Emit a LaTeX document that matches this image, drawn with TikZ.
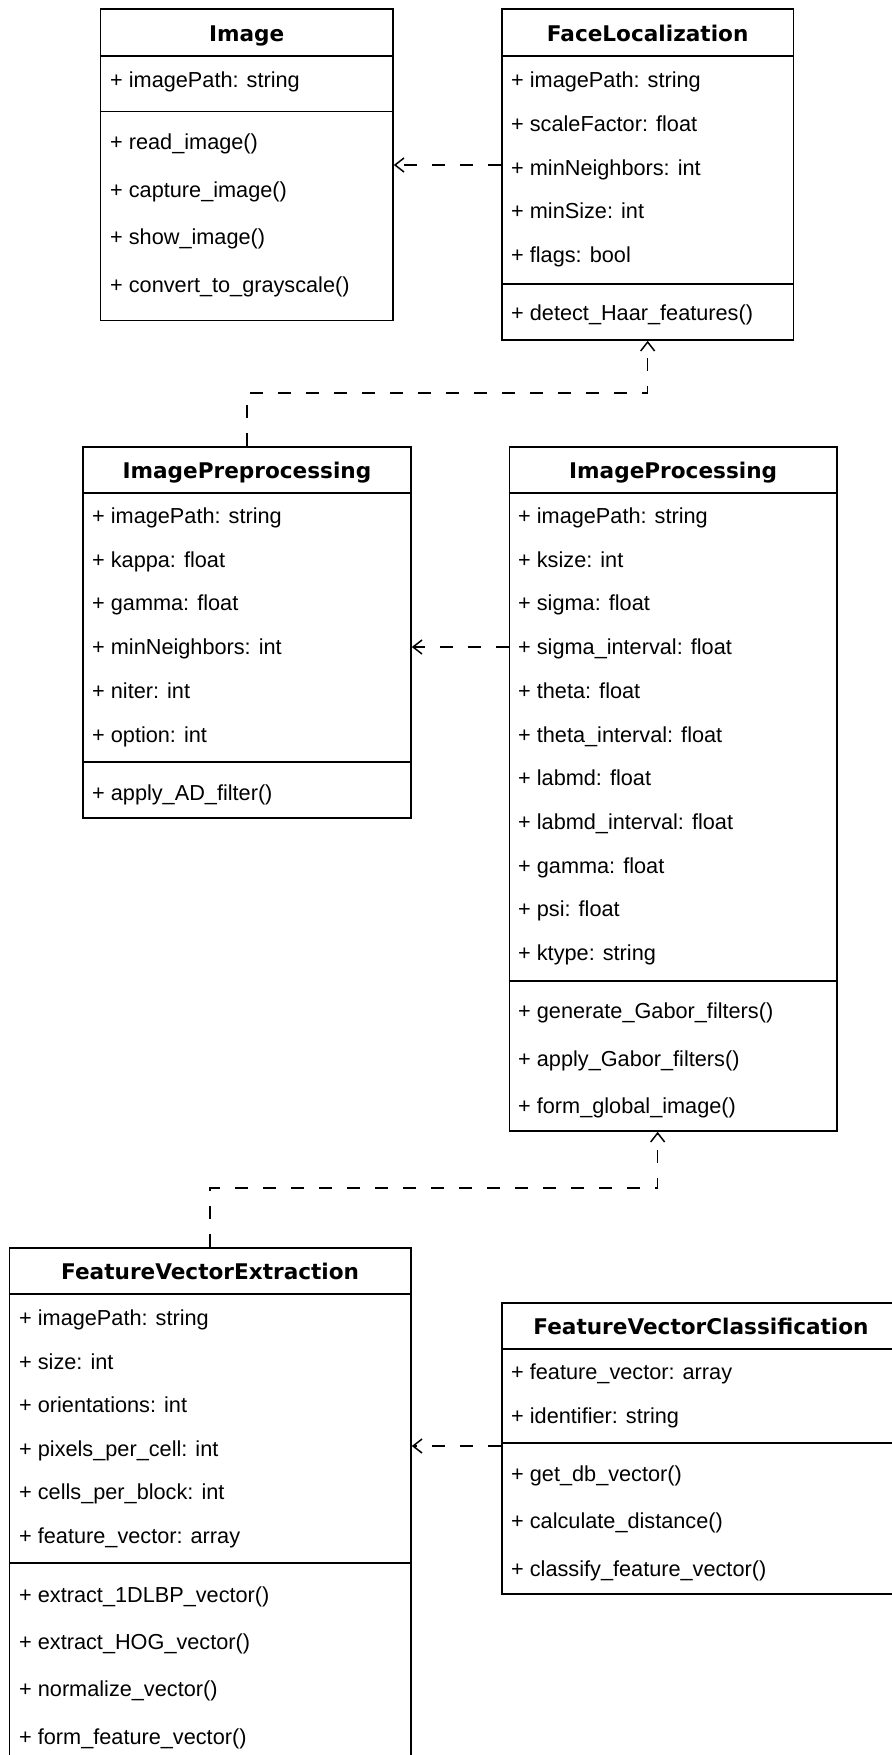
\documentclass[tikz,border=0pt]{standalone}
\usepackage{fontspec}
\setmainfont{Liberation Sans}
\newfontfamily\titlefont{DejaVu Sans}
\usetikzlibrary{arrows.meta}

\begin{document}
\begin{tikzpicture}[
  x=1pt, y=-1pt, % one unit per pixel, y grows downwards
  classbox/.style={draw=black, line width=1.8pt, fill=white, anchor=north west, inner sep=0pt},
  classtitle/.style={inner sep=0pt, text height=16pt, text depth=5pt,
    font=\titlefont\bfseries\fontsize{21.6}{26}\selectfont},
  member/.style={anchor=west, inner sep=0pt, text height=16pt, text depth=5pt,
    font=\fontsize{21.7}{26}\selectfont},
  divider/.style={line width=1.8pt},
  depends/.style={-{Straight Barb[length=9pt,width=14pt,line width=1.5pt]},
    dash pattern=on 13pt off 15pt, line width=1.6pt}
]
\useasboundingbox (0,0) rectangle (891,1755);

% --- Top row: Image and FaceLocalization ---
\node[classbox, minimum width=292.5pt, minimum height=311pt] (image) at (99.5,8.5) {};
\node[classtitle] (imageT) at (image.north |- 0,36) {Image};
\draw[divider] (image.west |- 0,56) -- (image.east |- 0,56);
\draw[divider] (image.west |- 0,111.5) -- (image.east |- 0,111.5);
\node[member] (imageA0) at (110,82) {+ imagePath: string};
\foreach \m [count=\i from 0] in {+ read\_image(), + capture\_image(), + show\_image(), + convert\_to\_grayscale()}
  \node[member] (imageM\i) at (110, 144+\i*47.6) {\m};

\node[classbox, minimum width=291.5pt, minimum height=330.5pt] (faceloc) at (501,8.5) {};
\node[classtitle] (facelocT) at (faceloc.north |- 0,36) {FaceLocalization};
\draw[divider] (faceloc.west |- 0,56) -- (faceloc.east |- 0,56);
\draw[divider] (faceloc.west |- 0,284) -- (faceloc.east |- 0,284);
\foreach \m [count=\i from 0] in {+ imagePath: string, + scaleFactor: float, + minNeighbors: int, + minSize: int, + flags: bool}
  \node[member] (facelocA\i) at (511, 82+\i*43.8) {\m};
\node[member] (facelocM0) at (511,315) {+ detect\_Haar\_features()};

% --- Middle row: ImagePreprocessing and ImageProcessing ---
\node[classbox, minimum width=328pt, minimum height=371pt] (prep) at (82,446) {};
\node[classtitle] (prepT) at (prep.north |- 0,473) {ImagePreprocessing};
\draw[divider] (prep.west |- 0,493) -- (prep.east |- 0,493);
\draw[divider] (prep.west |- 0,762) -- (prep.east |- 0,762);
\foreach \m [count=\i from 0] in {+ imagePath: string, + kappa: float, + gamma: float, + minNeighbors: int, + niter: int, + option: int}
  \node[member] (prepA\i) at (92, 518+\i*43.7) {\m};
\node[member] (prepM0) at (92,795) {+ apply\_AD\_filter()};

\node[classbox, minimum width=327.5pt, minimum height=684pt] (proc) at (508.5,446) {};
\node[classtitle] (procT) at (proc.north |- 0,473) {ImageProcessing};
\draw[divider] (proc.west |- 0,493) -- (proc.east |- 0,493);
\draw[divider] (proc.west |- 0,981) -- (proc.east |- 0,981);
\foreach \m [count=\i from 0] in {+ imagePath: string, + ksize: int, + sigma: float, + sigma\_interval: float,
    + theta: float, + theta\_interval: float, + labmd: float, + labmd\_interval: float,
    + gamma: float, + psi: float, + ktype: string}
  \node[member] (procA\i) at (518, 518+\i*43.7) {\m};
\foreach \m [count=\i from 0] in {+ generate\_Gabor\_filters(), + apply\_Gabor\_filters(), + form\_global\_image()}
  \node[member] (procM\i) at (518, 1013+\i*47.6) {\m};

% --- Bottom row: FeatureVectorExtraction and FeatureVectorClassification ---
\node[classbox, minimum width=401.5pt, minimum height=530pt] (fve) at (8.5,1247) {};
\node[classtitle] (fveT) at (fve.north |- 0,1274) {FeatureVectorExtraction};
\draw[divider] (fve.west |- 0,1294) -- (fve.east |- 0,1294);
\draw[divider] (fve.west |- 0,1563) -- (fve.east |- 0,1563);
\foreach \m [count=\i from 0] in {+ imagePath: string, + size: int, + orientations: int, + pixels\_per\_cell: int,
    + cells\_per\_block: int, + feature\_vector: array}
  \node[member] (fveA\i) at (19, 1320+\i*43.6) {\m};
\foreach \m [count=\i from 0] in {+ extract\_1DLBP\_vector(), + extract\_HOG\_vector(), + normalize\_vector(), + form\_feature\_vector()}
  \node[member] (fveM\i) at (19, 1597+\i*47.2) {\m};

\node[classbox, minimum width=410pt, minimum height=291pt] (fvc) at (501,1302) {};
\node[classtitle] (fvcT) at (701, 1329) {FeatureVectorClassification};
\draw[divider] (fvc.west |- 0,1349) -- (fvc.east |- 0,1349);
\draw[divider] (fvc.west |- 0,1443) -- (fvc.east |- 0,1443);
\foreach \m [count=\i from 0] in {+ feature\_vector: array, + identifier: string}
  \node[member] (fvcA\i) at (511, 1374+\i*43.7) {\m};
\foreach \m [count=\i from 0] in {+ get\_db\_vector(), + calculate\_distance(), + classify\_feature\_vector()}
  \node[member] (fvcM\i) at (511, 1476+\i*47.4) {\m};

% --- Dependencies ---
\draw[depends] (faceloc.west |- 0,165) -- (image.east |- 0,165);
\draw[depends] (prep.north) -- (prep.north |- 0,393) -| (faceloc.south);
\draw[depends] (proc.west |- 0,647) -- (prep.east |- 0,647);
\draw[depends] (fve.north) -- (fve.north |- 0,1188) -| ([xshift=-15.5pt]proc.south);
\draw[depends] (fvc.west |- 0,1446) -- (fve.east |- 0,1446);

\end{tikzpicture}
\end{document}
